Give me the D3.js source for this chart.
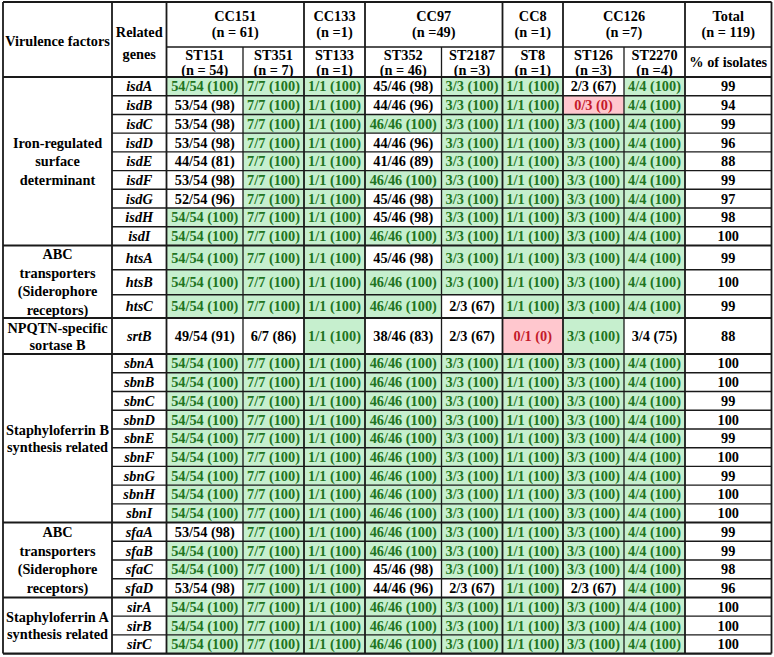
<!DOCTYPE html>
<html lang="en">
<head>
<meta charset="UTF-8">
<title>Virulence factor genes by ST</title>
<style>
    body { margin: 0; padding: 0; background: #fff; }
    svg text { font-family: "Liberation Serif", "Times New Roman", serif; font-weight: bold; font-size: 14.3px; }
</style>
</head>
<body>
<div id="table"></div>
<script src="https://d3js.org/d3.v7.min.js"></script>
<script>
// ---- data ----
const ccGroups = ["CC151", "CC133", "CC97", "CC8", "CC126"];
const ccSizes = ["(n = 61)", "(n =1)", "(n =49)", "(n =1)", "(n =7)"];
const ccSpans = [2, 1, 2, 1, 2];

const stTypes = ["ST151", "ST351", "ST133", "ST352", "ST2187", "ST8", "ST126", "ST2270"];
const stLabels = ["(n = 54)", "(n = 7)", "(n =1)", "(n = 46)", "(n =3)", "(n =1)", "(n =3)", "(n =4)"];
const stN = [54, 7, 1, 46, 3, 1, 3, 4];

const factorLabels = [
    ["Iron-regulated", "surface", "determinant"],
    ["ABC", "transporters", "(Siderophore", "receptors)"],
    ["NPQTN-specific", "sortase B"],
    ["Staphyloferrin B", "synthesis related"],
    ["ABC", "transporters", "(Siderophore", "receptors)"],
    ["Staphyloferrin A", "synthesis related"]
];
const factorGeneCounts = [9, 3, 1, 9, 4, 3];

const genes = [
    "isdA", "isdB", "isdC", "isdD", "isdE", "isdF", "isdG", "isdH", "isdI",
    "htsA", "htsB", "htsC",
    "srtB",
    "sbnA", "sbnB", "sbnC", "sbnD", "sbnE", "sbnF", "sbnG", "sbnH", "sbnI",
    "sfaA", "sfaB", "sfaC", "sfaD",
    "sirA", "sirB", "sirC"
];

// positive isolates per ST (same order as stTypes)
const positives = [
    [54, 7, 1, 45, 3, 1, 2, 4],
    [53, 7, 1, 44, 3, 1, 0, 4],
    [53, 7, 1, 46, 3, 1, 3, 4],
    [53, 7, 1, 44, 3, 1, 3, 4],
    [44, 7, 1, 41, 3, 1, 3, 4],
    [53, 7, 1, 46, 3, 1, 3, 4],
    [52, 7, 1, 45, 3, 1, 3, 4],
    [54, 7, 1, 45, 3, 1, 3, 4],
    [54, 7, 1, 46, 3, 1, 3, 4],
    [54, 7, 1, 45, 3, 1, 3, 4],
    [54, 7, 1, 46, 3, 1, 3, 4],
    [54, 7, 1, 46, 2, 1, 3, 4],
    [49, 6, 1, 38, 2, 0, 3, 3],
    [54, 7, 1, 46, 3, 1, 3, 4],
    [54, 7, 1, 46, 3, 1, 3, 4],
    [54, 7, 1, 46, 3, 1, 3, 4],
    [54, 7, 1, 46, 3, 1, 3, 4],
    [54, 7, 1, 46, 3, 1, 3, 4],
    [54, 7, 1, 46, 3, 1, 3, 4],
    [54, 7, 1, 46, 3, 1, 3, 4],
    [54, 7, 1, 46, 3, 1, 3, 4],
    [54, 7, 1, 46, 3, 1, 3, 4],
    [53, 7, 1, 46, 3, 1, 3, 4],
    [54, 7, 1, 46, 3, 1, 3, 4],
    [54, 7, 1, 45, 3, 1, 3, 4],
    [53, 7, 1, 44, 2, 1, 2, 4],
    [54, 7, 1, 46, 3, 1, 3, 4],
    [54, 7, 1, 46, 3, 1, 3, 4],
    [54, 7, 1, 46, 3, 1, 3, 4]
];

const totalPct = [99, 94, 99, 96, 88, 99, 97, 98, 100, 99, 100, 99, 88,
    100, 100, 99, 100, 99, 100, 99, 100, 100, 99, 99, 98, 96, 100, 100, 100];

// ---- layout ----
const W = 774, H = 657;
const colX = [3, 112, 166.5, 243, 304, 365, 441.5, 502.5, 563, 624, 685, 771.5];
const headTop = 2, headMid = 47, headBot = 77;
const tallRows = { htsA: 24.3, htsB: 25, htsC: 23.3, srtB: 36 };
const rowH = g => tallRows[g] || 18.72;

const rowY = [];
let acc = headBot;
genes.forEach(g => { rowY.push(acc); acc += rowH(g); });
const tableBot = acc;

const green = "#c6efce", greenText = "#217321";
const red = "#ffc7ce", redText = "#c41a2a";
const line = "#1a1a1a";

const svg = d3.select("#table").append("svg")
    .attr("width", W)
    .attr("height", H);

const stX = i => colX[i + 2];
const stW = i => colX[i + 3] - colX[i + 2];

// body cells
genes.forEach((g, r) => {
    const y = rowY[r], h = rowH(g);
    positives[r].forEach((k, i) => {
        const pct = Math.round(100 * k / stN[i]);
        const fill = pct === 100 ? green : (k === 0 ? red : "#fff");
        const col = pct === 100 ? greenText : (k === 0 ? redText : "#000");
        svg.append("rect")
            .attr("x", stX(i)).attr("y", y)
            .attr("width", stW(i)).attr("height", h)
            .attr("fill", fill);
        svg.append("text")
            .attr("x", stX(i) + stW(i) / 2)
            .attr("y", y + h / 2)
            .attr("dy", "0.35em")
            .attr("text-anchor", "middle")
            .attr("fill", col)
            .text(`${k}/${stN[i]} (${pct})`);
    });
    svg.append("text")
        .attr("x", (colX[1] + colX[2]) / 2)
        .attr("y", y + h / 2)
        .attr("dy", "0.35em")
        .attr("text-anchor", "middle")
        .style("font-style", "italic")
        .text(g);
    svg.append("text")
        .attr("x", (colX[10] + colX[11]) / 2)
        .attr("y", y + h / 2)
        .attr("dy", "0.35em")
        .attr("text-anchor", "middle")
        .text(totalPct[r]);
});

// virulence factor labels
const groupStart = [];
let gi = 0;
factorGeneCounts.forEach(c => { groupStart.push(gi); gi += c; });
const groupTop = i => rowY[groupStart[i]];
const groupBot = i => groupStart[i] + factorGeneCounts[i] < genes.length ? rowY[groupStart[i] + factorGeneCounts[i]] : tableBot;

factorLabels.forEach((lines, i) => {
    const cy = (groupTop(i) + groupBot(i)) / 2;
    const lh = lines.length > 2 ? 18.5 : 17;
    lines.forEach((t, j) => {
        svg.append("text")
            .attr("x", (colX[0] + colX[1]) / 2)
            .attr("y", cy + (j - (lines.length - 1) / 2) * lh)
            .attr("dy", "0.35em")
            .attr("text-anchor", "middle")
            .text(t);
    });
});

// header text
function headText(x, y, t) {
    svg.append("text")
        .attr("x", x).attr("y", y)
        .attr("dy", "0.35em")
        .attr("text-anchor", "middle")
        .text(t);
}
headText((colX[0] + colX[1]) / 2, 41, "Virulence factors");
headText((colX[1] + colX[2]) / 2, 32, "Related");
headText((colX[1] + colX[2]) / 2, 54, "genes");

let ci = 0;
ccGroups.forEach((cc, i) => {
    const x0 = stX(ci), x1 = stX(ci + ccSpans[i]);
    headText((x0 + x1) / 2, 16, cc);
    headText((x0 + x1) / 2, 32, ccSizes[i]);
    ci += ccSpans[i];
});
stTypes.forEach((st, i) => {
    headText(stX(i) + stW(i) / 2, 55, st);
    headText(stX(i) + stW(i) / 2, 70, stLabels[i]);
});
headText((colX[10] + colX[11]) / 2, 16, "Total");
headText((colX[10] + colX[11]) / 2, 32, "(n = 119)");
headText((colX[10] + colX[11]) / 2, 62, "% of isolates");

// grid lines
function hLine(x1, x2, y, w) {
    svg.append("line").attr("x1", x1).attr("x2", x2).attr("y1", y).attr("y2", y)
        .attr("stroke", line).attr("stroke-width", w);
}
function vLine(x, y1, y2, w) {
    svg.append("line").attr("x1", x).attr("x2", x).attr("y1", y1).attr("y2", y2)
        .attr("stroke", line).attr("stroke-width", w);
}

// rows inside groups
genes.forEach((g, r) => {
    if (r === 0) return;
    const isGroupStart = groupStart.includes(r);
    hLine(isGroupStart ? colX[0] : colX[1], colX[11], rowY[r], isGroupStart ? 2 : 1.4);
});
hLine(colX[2], colX[11], headMid, 1.4);
hLine(colX[0], colX[11], headBot, 2);
hLine(colX[0], colX[11], headTop, 2);
hLine(colX[0], colX[11], tableBot, 2.2);

// columns
const thickCols = [0, 1, 2, 4, 5, 7, 8, 10, 11];
colX.forEach((x, i) => {
    const thick = thickCols.includes(i);
    vLine(x, thick ? headTop : headMid, tableBot, thick ? 1.8 : 1.3);
});
</script>
</body>
</html>
